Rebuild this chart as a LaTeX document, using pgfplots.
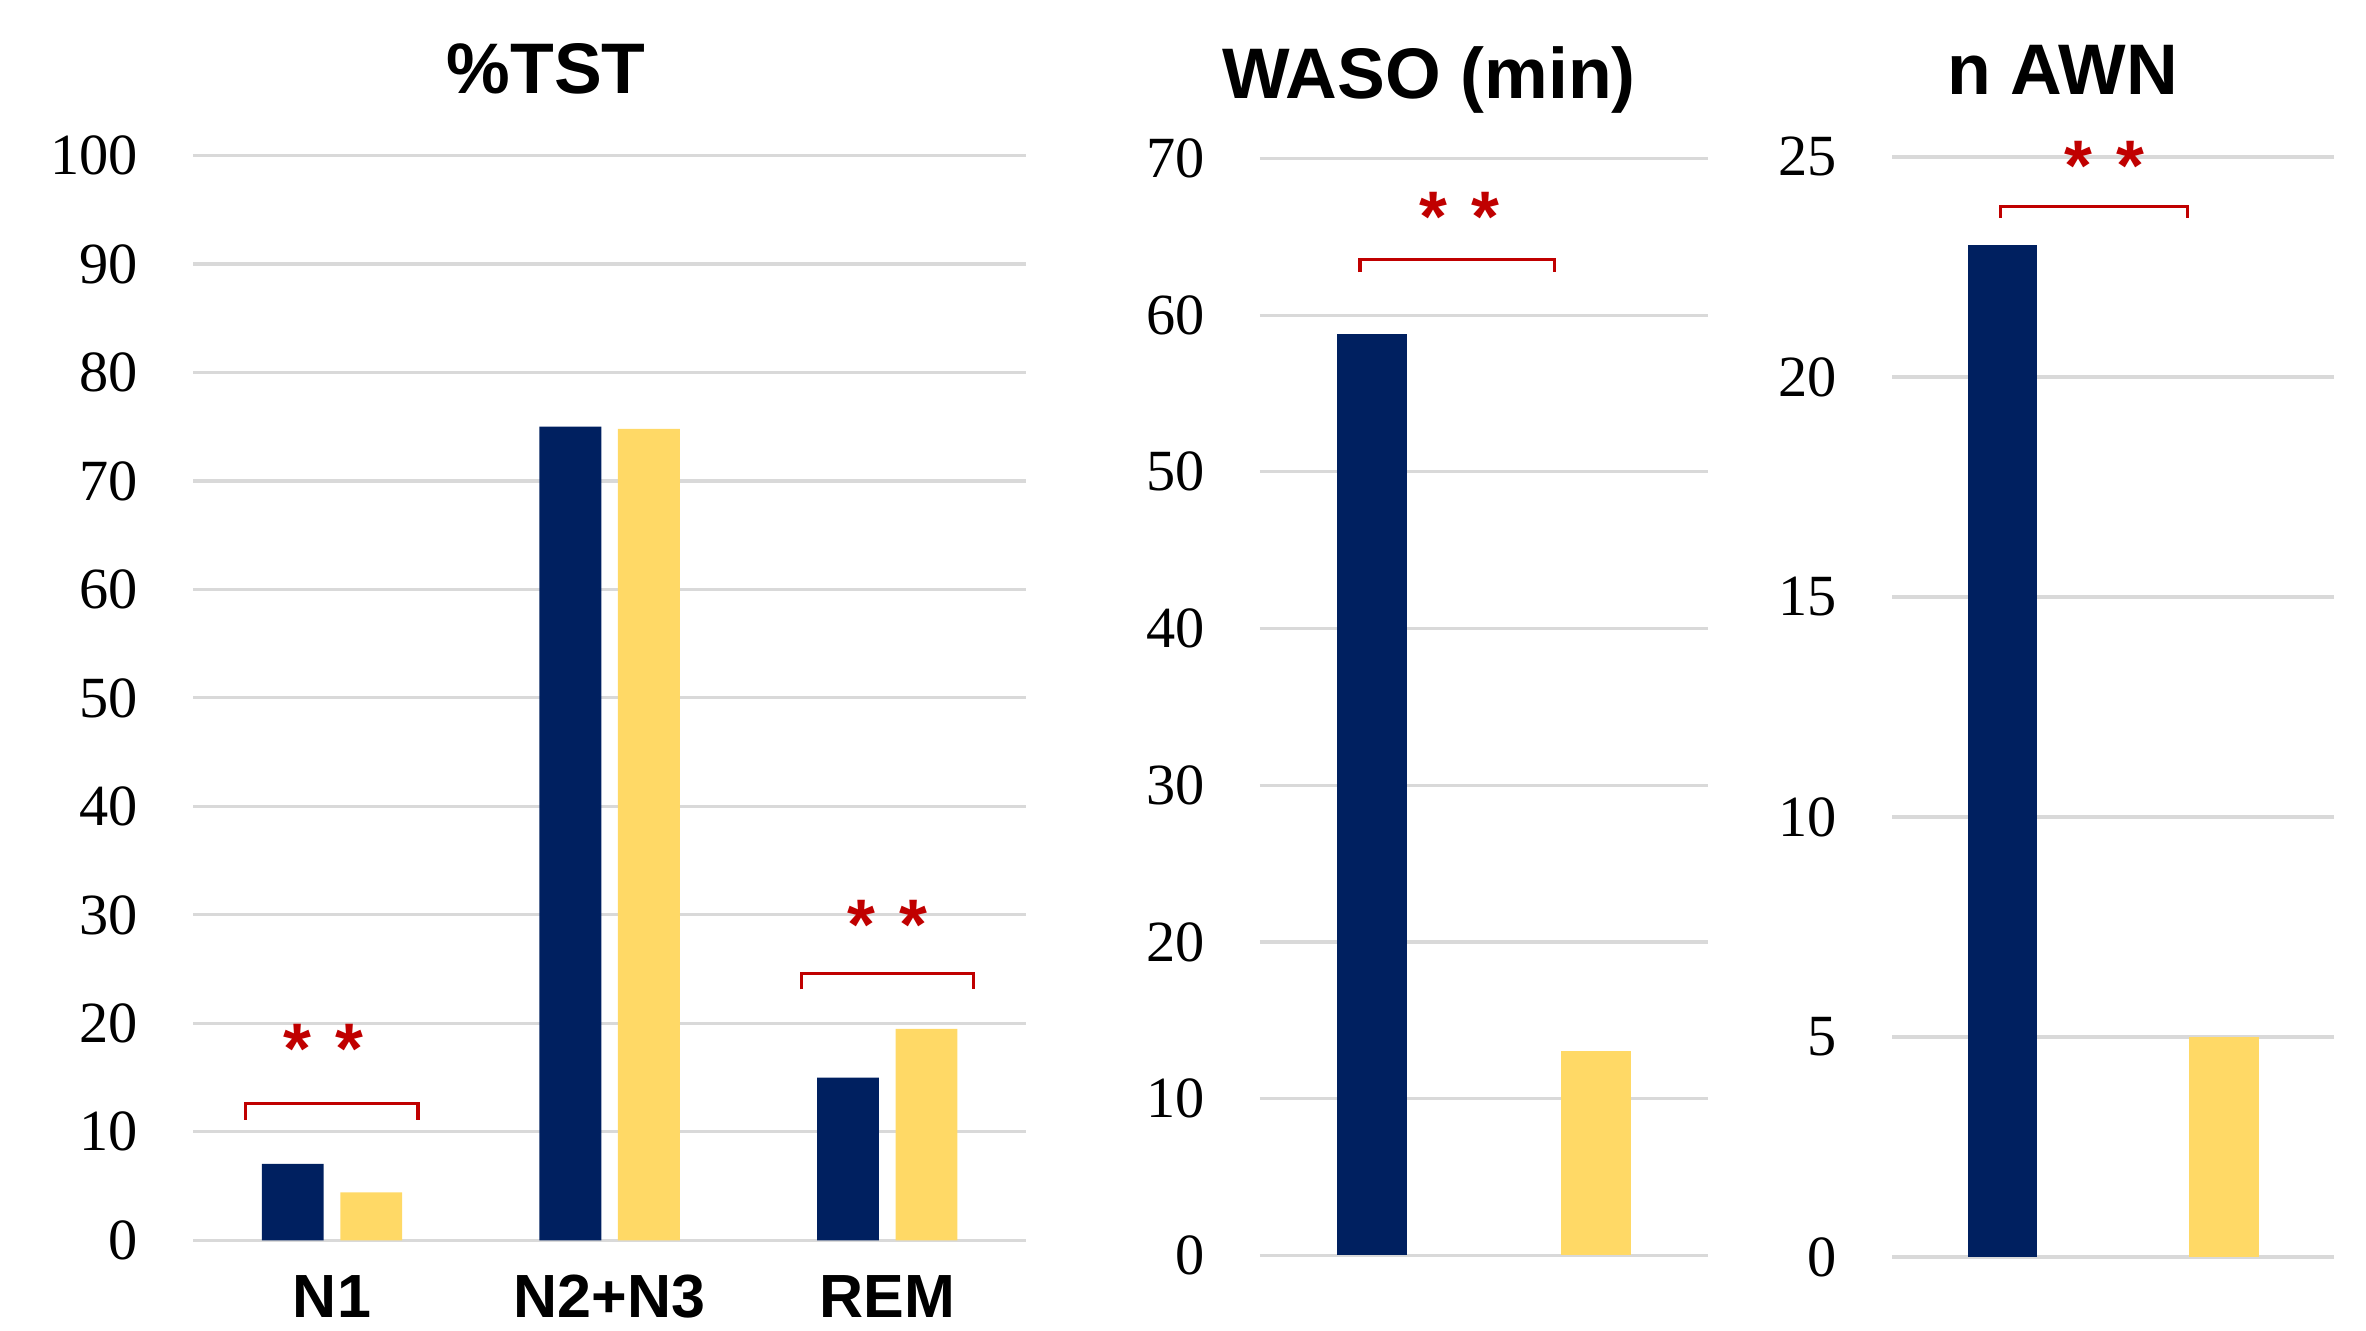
\documentclass[border=0pt]{standalone}
\usepackage{fontspec}
\setmainfont{Liberation Serif}
\newfontfamily\arialf{Liberation Sans}
\usepackage{pgfplots}
\pgfplotsset{compat=1.18}
\definecolor{navy}{HTML}{002060}
\definecolor{gold}{HTML}{FFD966}
\definecolor{sigred}{HTML}{C00000}
\definecolor{gridc}{HTML}{D9D9D9}
\tikzset{sig/.style={draw=sigred, line width=0.6pt}}
\pgfplotsset{
  myaxis/.style={
    scale only axis,
    anchor=south west,
    axis line style={draw=none},
    major tick length=0pt,
    tick style={draw=none},
    ymajorgrids,
    grid style={gridc, line width=0.6pt},
    clip=false,
    ymin=0,
    /pgf/number format/assume math mode=true,
    yticklabel style={font=\fontsize{11}{11}\selectfont, anchor=east, inner sep=0pt, xshift=-0.36cm},
    xticklabel style={font=\arialf\bfseries\fontsize{11.5}{11.5}\selectfont, anchor=base, inner sep=0pt},
  },
}
\newcommand{\stars}{\arialf\bfseries\fontsize{13.5}{13.5}\selectfont *\hspace{0.33em}*}
\begin{document}
\begin{tikzpicture}
\useasboundingbox (0,0) rectangle (15.68cm,8.82cm);
% Panel 1: %TST
\begin{axis}[myaxis,
  at={(1.28cm,0.60cm)}, width=5.52cm, height=7.19cm,
  xmin=-0.5, xmax=2.5, ymax=100,
  ytick={0,10,...,100},
  xtick={0,1,2}, xticklabels={N1,N2+N3,REM},
  xticklabel style={yshift=-0.51cm},
]
\addplot[ybar, bar width=0.41cm, bar shift=-0.26cm, fill=navy, draw=none] coordinates {(0,7.06) (1,75.0) (2,15.0)};
\addplot[ybar, bar width=0.41cm, bar shift=0.26cm, fill=gold, draw=none] coordinates {(0,4.42) (1,74.8) (2,19.5)};
\draw[sig] (axis cs:-0.31,11.1) -- (axis cs:-0.31,12.63) -- (axis cs:0.31,12.63) -- (axis cs:0.31,11.1);
\draw[sig] (axis cs:1.69,23.14) -- (axis cs:1.69,24.63) -- (axis cs:2.31,24.63) -- (axis cs:2.31,23.14);
\node[text=sigred, anchor=base, inner sep=0pt, yshift=-0.27cm] at (axis cs:-0.03,19.15) {\stars};
\node[text=sigred, anchor=base, inner sep=0pt, yshift=-0.27cm] at (axis cs:2.0,30.6) {\stars};
\end{axis}
% Panel 2: WASO
\begin{axis}[myaxis,
  at={(8.35cm,0.50cm)}, width=2.97cm, height=7.27cm,
  xmin=-0.5, xmax=1.5, ymax=70,
  ytick={0,10,...,70},
  xtick=\empty,
]
\addplot[ybar, bar width=0.46cm, bar shift=0pt, fill=navy, draw=none] coordinates {(0,58.79)};
\addplot[ybar, bar width=0.46cm, bar shift=0pt, fill=gold, draw=none] coordinates {(1,13.06)};
\draw[sig] (axis cs:-0.054,62.75) -- (axis cs:-0.054,63.56) -- (axis cs:0.815,63.56) -- (axis cs:0.815,62.75);
\node[text=sigred, anchor=base, inner sep=0pt, yshift=-0.27cm] at (axis cs:0.39,67.27) {\stars};
\end{axis}
% Panel 3: n AWN
\begin{axis}[myaxis,
  at={(12.54cm,0.49cm)}, width=2.93cm, height=7.29cm,
  xmin=-0.5, xmax=1.5, ymax=25,
  ytick={0,5,...,25},
  xtick=\empty,
]
\addplot[ybar, bar width=0.46cm, bar shift=0pt, fill=navy, draw=none] coordinates {(0,23.01)};
\addplot[ybar, bar width=0.46cm, bar shift=0pt, fill=gold, draw=none] coordinates {(1,5.0)};
\draw[sig] (axis cs:-0.01,23.62) -- (axis cs:-0.01,23.88) -- (axis cs:0.835,23.88) -- (axis cs:0.835,23.62);
\node[text=sigred, anchor=base, inner sep=0pt, yshift=-0.27cm] at (axis cs:0.46,25.17) {\stars};
\end{axis}
% Titles
\node[anchor=base, inner sep=0pt, font=\arialf\bfseries\fontsize{13.5}{13.5}\selectfont] at (3.62cm,8.20cm) {\%TST};
\node[anchor=base, inner sep=0pt, font=\arialf\bfseries\fontsize{13.5}{13.5}\selectfont] at (9.47cm,8.164cm) {WASO (min)};
\node[anchor=base, inner sep=0pt, font=\arialf\bfseries\fontsize{13.5}{13.5}\selectfont] at (13.67cm,8.197cm) {n AWN};
\end{tikzpicture}
\end{document}
